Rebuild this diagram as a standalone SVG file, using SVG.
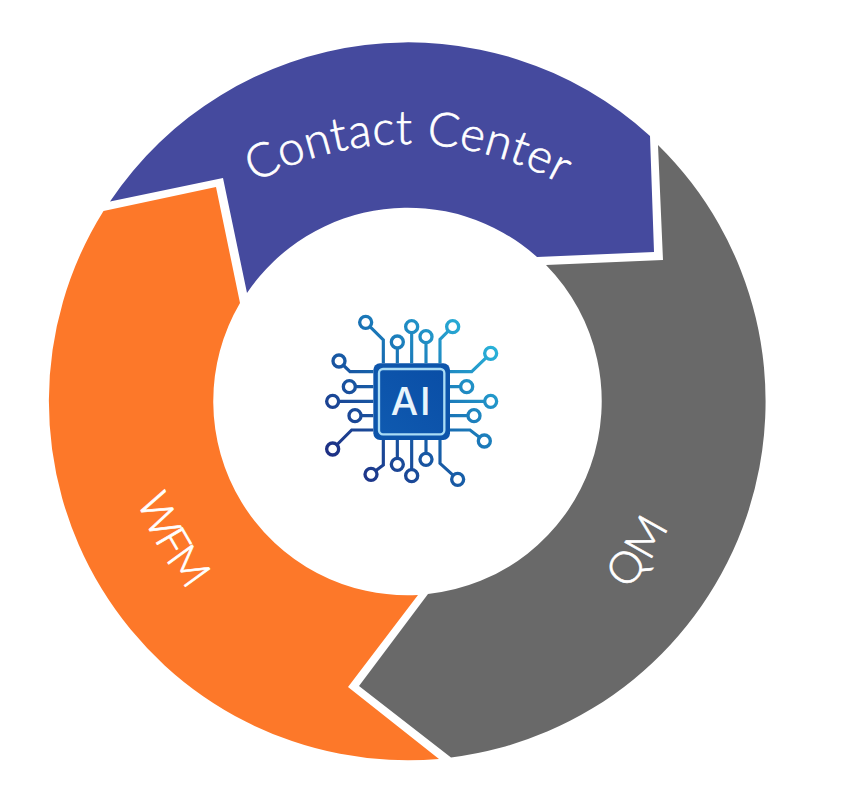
<svg xmlns="http://www.w3.org/2000/svg" width="846" height="800" viewBox="0 0 846 800">
<style>
.lbl{font-family:"Lato","Open Sans","DejaVu Sans",sans-serif;font-weight:300;fill:#fff;stroke:#fff;stroke-width:.7}
.ln{fill:none;stroke:url(#g);stroke-width:9.500}
.nd{fill:#fff;stroke:url(#g);stroke-width:10}
</style>
<defs>
<linearGradient id="g" gradientUnits="userSpaceOnUse" x1="540" y1="90" x2="70" y2="520">
<stop offset="0" stop-color="#2bb8dc"/><stop offset=".5" stop-color="#1666ae"/><stop offset="1" stop-color="#1f2a80"/>
</linearGradient>
<linearGradient id="c" x1="1" y1="0" x2="0" y2="1">
<stop offset="0" stop-color="#0a4ea6"/><stop offset="1" stop-color="#0f5ab0"/>
</linearGradient>
<path id="p1" d="M240 191A318 318 0 0 1 576 193"/>
<path id="p2" d="M125 454A290 290 0 0 0 250 645"/>
<path id="p3" d="M630 587A290 290 0 0 0 692 350"/>
</defs>
<rect width="846" height="800" fill="#fff"/>
<g id="contact-center">
<path fill="#454a9e" d="M110 201.500A359 359 0 0 1 650 136L654 252L537 257A194 194 0 0 0 247 293L223 178Z"/>
<text class="lbl" font-size="47" letter-spacing=".6"><textPath href="#p1" startOffset="50%" text-anchor="middle">Contact Center</textPath></text>
</g>
<g id="qm">
<path fill="#696969" d="M658 145A359 359 0 0 1 451 757.500L359 686L428 594A194 194 0 0 0 546 265L663 260Z"/>
<text class="lbl" font-size="44"><textPath href="#p3" startOffset="-4" textLength="76" lengthAdjust="spacing">QM</textPath></text>
</g>
<g id="wfm">
<path fill="#fd7829" d="M439 759A359 359 0 0 1 103.500 211L216 187L240 303A194 194 0 0 0 418 595L348 687Z"/>
<text class="lbl" font-size="43"><textPath href="#p2" startOffset="48" textLength="104" lengthAdjust="spacing">WFM</textPath></text>
</g>
<g id="ai-chip" transform="translate(310 300) scale(.33333)">
<g id="connectors">
<path class="ln" d="M167 67L220 120V190M262 126V190M305 80V190M348 110V190M428 80L390 118V190M542 160L485 215H420M470 260H420M542 304H420M492 347H420M523 423L480 390H420M87 183L120 215H190M118 260H190M68 304H190M135 347H190M68 447L125 390H190M220 420V495L183 523M262 420V493M305 420V527M348 420V478M390 420V490L443 538"/>
</g>
<g>
<circle class="nd" cx="167" cy="67" r="18"/><circle class="nd" cx="305" cy="80" r="18"/><circle class="nd" cx="428" cy="80" r="18"/><circle class="nd" cx="348" cy="110" r="18"/><circle class="nd" cx="262" cy="126" r="18"/><circle class="nd" cx="542" cy="160" r="18"/><circle class="nd" cx="87" cy="183" r="18"/><circle class="nd" cx="118" cy="260" r="18"/><circle class="nd" cx="470" cy="260" r="18"/><circle class="nd" cx="68" cy="304" r="18"/><circle class="nd" cx="542" cy="304" r="18"/><circle class="nd" cx="135" cy="347" r="18"/><circle class="nd" cx="492" cy="347" r="18"/><circle class="nd" cx="523" cy="423" r="18"/><circle class="nd" cx="68" cy="447" r="18"/><circle class="nd" cx="348" cy="478" r="18"/><circle class="nd" cx="262" cy="493" r="18"/><circle class="nd" cx="183" cy="523" r="18"/><circle class="nd" cx="305" cy="527" r="18"/><circle class="nd" cx="443" cy="538" r="18"/>
</g>
<rect x="190" y="190" width="230" height="230" rx="20" fill="#0d55ab"/>
<rect x="207" y="207" width="196" height="196" rx="12" fill="url(#c)" stroke="#a9dcf5" stroke-width="7"/>
<text x="305" y="345" font-size="116" text-anchor="middle" font-family="'Inter','Open Sans',sans-serif" font-weight="500" letter-spacing="6" fill="#e8f4fc">AI</text>
</g>
</svg>
